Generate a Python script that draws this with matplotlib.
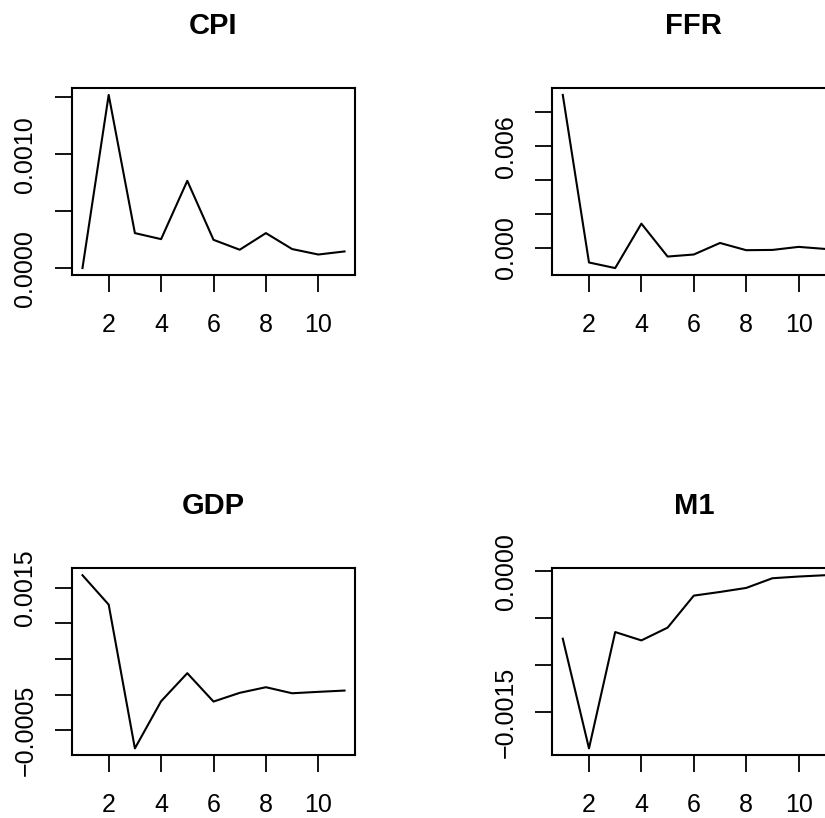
import matplotlib
matplotlib.use("Agg")
import matplotlib.pyplot as plt

plt.rcParams['font.family'] = ['Liberation Sans', 'DejaVu Sans']

steps = list(range(1, 12))

cpi = [0.0, 0.00152, 0.000307, 0.000254, 0.000766, 0.000248,
       0.000161, 0.000307, 0.000167, 0.000119, 0.000146]
ffr = [0.00902, -0.00086, -0.00119, 0.00143, -0.00051, -0.00039,
       0.00029, -0.000135, -0.00012, 0.00006, -0.00006]
gdp = [0.001676, 0.001263, -0.000756, -0.000094, 0.0003, -0.0000986,
       0.000024, 0.000103, 0.000018, 0.000038, 0.000056]
m1 = [-0.000719, -0.001887, -0.000648, -0.000737, -0.000601, -0.00026,
      -0.000221, -0.000178, -0.0000748, -0.0000566, -0.0000427]

names = ['CPI', 'FFR', 'GDP', 'M1']
series = [cpi, ffr, gdp, m1]

# y ticks and which ones R kept a label for
yticks = [
    [0.0, 0.0005, 0.0010, 0.0015],
    [0.0, 0.002, 0.004, 0.006, 0.008],
    [-0.0005, 0.0, 0.0005, 0.0010, 0.0015],
    [-0.0015, -0.0010, -0.0005, 0.0],
]
ylabels = [
    ['0.0000', '', '0.0010', ''],
    ['0.000', '', '', '0.006', ''],
    ['\u22120.0005', '', '', '', '0.0015'],
    ['\u22120.0015', '', '', '0.0000'],
]
xticks = [2, 4, 6, 8, 10]

fig = plt.figure(figsize=(8.25, 8.18), dpi=100)

W, H = 825, 818
boxes = [(72, 88), (552.3, 88), (72, 568.3), (552.3, 568.3)]
bw, bh = 283, 187

for i in range(4):
    left, top = boxes[i]
    ax = fig.add_axes([left / W, 1 - (top + bh) / H, bw / W, bh / H])
    y = series[i]
    ax.plot(steps, y, color='black', lw=1.5)
    ax.set_xlim(0.6, 11.4)
    lo, hi = min(y), max(y)
    pad = (hi - lo) * 0.04
    ax.set_ylim(lo - pad, hi + pad)
    ax.set_xticks(xticks)
    ax.set_xticklabels([str(t) for t in xticks])
    ax.set_yticks(yticks[i])
    ax.set_yticklabels(ylabels[i], rotation=90, va='center')
    ax.tick_params(axis='both', length=12, width=1.3, labelsize=18,
                   direction='out', color='black')
    ax.tick_params(axis='x', pad=15)
    ax.tick_params(axis='y', pad=13)
    for s in ax.spines.values():
        s.set_linewidth(1.5)
    ax.set_title(names[i], fontsize=21, fontweight='bold', pad=39)

fig.savefig('out.png', dpi=100)
